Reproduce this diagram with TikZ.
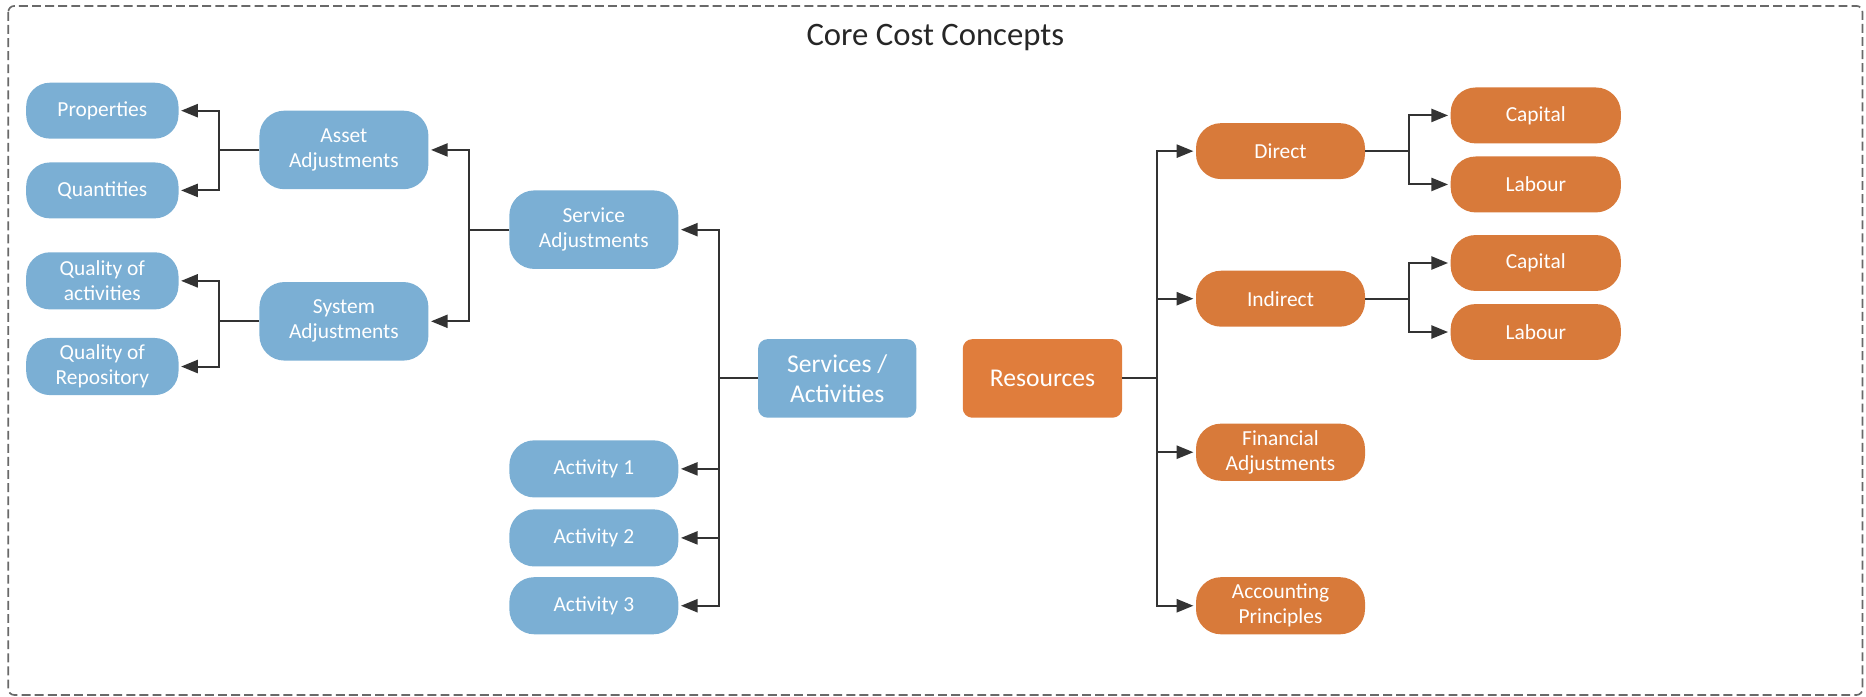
\documentclass[tikz,border=0pt]{standalone}
\usepackage{fontspec}
\setmainfont{Carlito}
\usepackage{xcolor}
\usepackage{tikz}
\usetikzlibrary{arrows.meta}

\definecolor{boxblue}{RGB}{123,175,212}
\definecolor{boxorange}{RGB}{216,122,58}
\definecolor{resorange}{RGB}{224,125,60}
\definecolor{linegray}{RGB}{51,51,51}
\definecolor{framegray}{RGB}{105,105,105}

\tikzset{
  pill/.style={fill=#1, text=white, rounded corners=21pt, align=center,
    inner sep=0pt, minimum width=142pt, minimum height=47pt,
    font=\fontsize{18}{21}\selectfont},
  bigpill/.style={pill=#1, minimum height=66pt},
  leaf/.style={pill=#1, minimum width=128pt, rounded corners=20pt},
  rootbox/.style={fill=#1, text=white, rounded corners=8pt, align=center,
    inner sep=0pt, minimum width=133pt, minimum height=66pt,
    font=\fontsize{21.5}{25}\selectfont},
  arr/.style={draw=linegray, line width=1.7pt,
    -{Triangle[length=14pt,width=11pt]}, shorten >=2pt},
}

\begin{document}
\begin{tikzpicture}[x=1pt,y=-1pt]
    \useasboundingbox (0,0) rectangle (1568,585);
    \draw[framegray, line width=1.4pt, dash pattern=on 7.5pt off 3.5pt,
      rounded corners=5pt] (7,5) rectangle (1565,584);
    \node[anchor=base,text=black!85,font=\fontsize{27.5}{30}\selectfont]
      (title) at (786,38.5) {Core Cost Concepts};

    % left tree
    \node[rootbox=boxblue] (serv) at (703.5,318) {Services /\\Activities};
    \node[bigpill=boxblue] (sadj) at (499,193) {Service\\Adjustments};
    \node[pill=boxblue, minimum height=48pt] (act1) at (499,394) {Activity 1};
    \node[pill=boxblue, minimum height=48pt] (act2) at (499,452) {Activity 2};
    \node[pill=boxblue, minimum height=48pt] (act3) at (499,509) {Activity 3};

    \node[bigpill=boxblue] (asset) at (289,126) {Asset\\Adjustments};
    \node[bigpill=boxblue] (system) at (289,270) {System\\Adjustments};

    \node[leaf=boxblue] (prop) at (86,93) {Properties};
    \node[leaf=boxblue] (quant) at (86,160) {Quantities};
    \node[leaf=boxblue, minimum height=48pt] (qact) at (86,236) {Quality of\\activities};
    \node[leaf=boxblue, minimum height=48pt] (qrep) at (86,308) {Quality of\\Repository};

    \draw[arr] (serv.west) -- ++(-33,0) |- (sadj.east);
    \draw[arr] (serv.west) -- ++(-33,0) |- (act1.east);
    \draw[arr] (serv.west) -- ++(-33,0) |- (act2.east);
    \draw[arr] (serv.west) -- ++(-33,0) |- (act3.east);

    \draw[arr] (sadj.west) -- ++(-34,0) |- (asset.east);
    \draw[arr] (sadj.west) -- ++(-34,0) |- (system.east);

    \draw[arr] (asset.west) -- ++(-34,0) |- (prop.east);
    \draw[arr] (asset.west) -- ++(-34,0) |- (quant.east);
    \draw[arr] (system.west) -- ++(-34,0) |- (qact.east);
    \draw[arr] (system.west) -- ++(-34,0) |- (qrep.east);

    % right tree
    \node[rootbox=resorange, minimum width=134pt] (res) at (876,318) {Resources};
    \node[pill=boxorange] (direct) at (1076,127) {Direct};
    \node[pill=boxorange] (indirect) at (1076,251) {Indirect};
    \node[pill=boxorange, minimum height=48pt] (fin) at (1076,380) {Financial\\Adjustments};
    \node[pill=boxorange, minimum height=48pt] (acc) at (1076,509) {Accounting\\Principles};

    \node[pill=boxorange, minimum width=143pt] (cap1) at (1290.5,97) {Capital};
    \node[pill=boxorange, minimum width=143pt] (lab1) at (1290.5,155) {Labour};
    \node[pill=boxorange, minimum width=143pt] (cap2) at (1290.5,221) {Capital};
    \node[pill=boxorange, minimum width=143pt] (lab2) at (1290.5,279) {Labour};

    \draw[arr] (res.east) -- ++(29,0) |- (direct.west);
    \draw[arr] (res.east) -- ++(29,0) |- (indirect.west);
    \draw[arr] (res.east) -- ++(29,0) |- (fin.west);
    \draw[arr] (res.east) -- ++(29,0) |- (acc.west);

    \draw[arr] (direct.east) -- ++(37,0) |- (cap1.west);
    \draw[arr] (direct.east) -- ++(37,0) |- (lab1.west);
    \draw[arr] (indirect.east) -- ++(37,0) |- (cap2.west);
    \draw[arr] (indirect.east) -- ++(37,0) |- (lab2.west);
\end{tikzpicture}
\end{document}
